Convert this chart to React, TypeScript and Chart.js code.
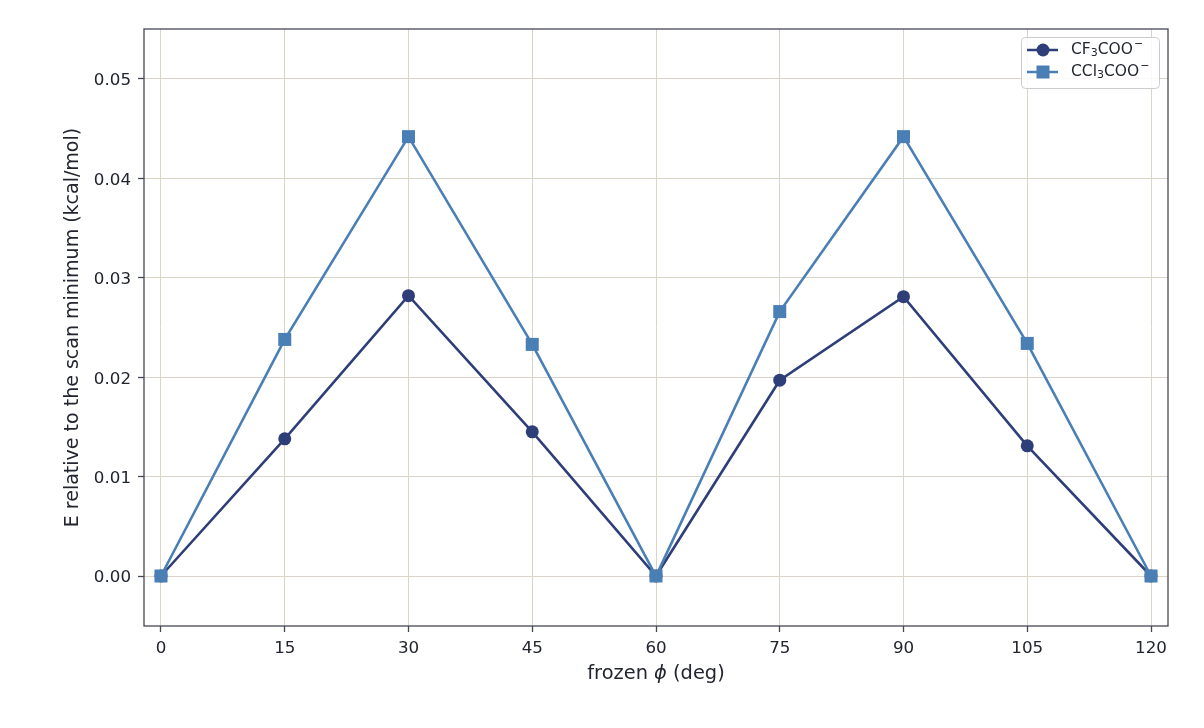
import { useRef, useEffect } from "react";
import { Chart, registerables } from "chart.js";

Chart.register(...registerables);

const angles = [0, 15, 30, 45, 60, 75, 90, 105, 120];
const cf3Values = [0, 0.0138, 0.0282, 0.0145, 0, 0.0197, 0.0281, 0.0131, 0];
const ccl3Values = [0, 0.0238, 0.0442, 0.0233, 0, 0.0266, 0.0442, 0.0234, 0];
const xTicks = [0, 15, 30, 45, 60, 75, 90, 105, 120];
const yTicks = [0, 0.01, 0.02, 0.03, 0.04, 0.05];

const NAVY = "#2e3e78";
const STEEL = "#4a7fb5";
const GRID = "#dad4c8";
const SPINE = "#454856";
const TEXT = "#22252f";
const FONT = "'DejaVu Sans'";

// matplotlib-like full frame around the plot area
const framePlugin = {
  id: "frame",
  afterDatasetsDraw(chart: Chart) {
    const { ctx, chartArea: a } = chart;
    ctx.save();
    ctx.strokeStyle = SPINE;
    ctx.lineWidth = 1.3;
    ctx.strokeRect(a.left, a.top, a.right - a.left, a.bottom - a.top);
    ctx.restore();
  },
};

// x title with an italic phi
const xTitlePlugin = {
  id: "xTitle",
  afterDraw(chart: Chart) {
    const { ctx, chartArea: a } = chart;
    const parts = [
      { t: "frozen ", f: `19.4px ${FONT}` },
      { t: "\u03d5", f: `oblique 19.4px ${FONT}` },
      { t: " (deg)", f: `19.4px ${FONT}` },
    ];
    ctx.save();
    ctx.fillStyle = TEXT;
    ctx.textBaseline = "middle";
    let total = 0;
    parts.forEach((p) => {
      ctx.font = p.f;
      total += ctx.measureText(p.t).width;
    });
    let x = (a.left + a.right) / 2 - total / 2;
    parts.forEach((p) => {
      ctx.font = p.f;
      ctx.fillText(p.t, x, 674);
      x += ctx.measureText(p.t).width;
    });
    ctx.restore();
  },
};

const drawLabel = (ctx: CanvasRenderingContext2D, x: number, y: number, head: string, sub: string) => {
  ctx.font = `15.5px ${FONT}`;
  ctx.fillText(head, x, y);
  x += ctx.measureText(head).width;
  ctx.font = `11px ${FONT}`;
  ctx.fillText(sub, x, y + 3.5);
  x += ctx.measureText(sub).width;
  ctx.font = `15.5px ${FONT}`;
  ctx.fillText("COO", x, y);
  x += ctx.measureText("COO").width + 1;
  ctx.font = `11px ${FONT}`;
  ctx.fillText("\u2212", x, y - 5.5);
};

const legendPlugin = {
  id: "boxLegend",
  afterDraw(chart: Chart) {
    const { ctx } = chart;
    const x = 1021, y = 37, w = 138, h = 51;
    ctx.save();
    ctx.fillStyle = "rgba(255,255,255,0.85)";
    ctx.strokeStyle = "#cccccc";
    ctx.lineWidth = 1;
    ctx.beginPath();
    ctx.roundRect(x + 0.5, y + 0.5, w, h, 4);
    ctx.fill();
    ctx.stroke();

    const rows = [
      { y: 50, color: NAVY, marker: "circle", sub: "3", head: "CF" },
      { y: 72, color: STEEL, marker: "rect", sub: "3", head: "CCl" },
    ];
    rows.forEach((r) => {
      ctx.strokeStyle = r.color;
      ctx.fillStyle = r.color;
      ctx.lineWidth = 2.5;
      ctx.beginPath();
      ctx.moveTo(1027, r.y);
      ctx.lineTo(1058, r.y);
      ctx.stroke();
      ctx.beginPath();
      if (r.marker === "circle") {
        ctx.arc(1043, r.y, 6.5, 0, Math.PI * 2);
      } else {
        ctx.rect(1036.5, r.y - 6.5, 13, 13);
      }
      ctx.fill();
      ctx.fillStyle = TEXT;
      ctx.textBaseline = "middle";
      drawLabel(ctx, 1071, r.y, r.head, r.sub);
    });
    ctx.restore();
  },
};

const ScanChart = () => {
  const chartRef = useRef<HTMLCanvasElement>(null);
  const chartInstance = useRef<Chart | null>(null);

  useEffect(() => {
    if (!chartRef.current) return;
    if (chartInstance.current) chartInstance.current.destroy();
    const ctx = chartRef.current.getContext("2d");
    if (!ctx) return;

    chartInstance.current = new Chart(ctx, {
      type: "line",
      data: {
        datasets: [
          {
            label: "CF3COO-",
            data: angles.map((a, i) => ({ x: a, y: cf3Values[i] })),
            borderColor: NAVY,
            backgroundColor: NAVY,
            borderWidth: 2.6,
            pointRadius: 6.5,
            pointStyle: "circle",
            pointBorderWidth: 0,
            order: 1,
          },
          {
            label: "CCl3COO-",
            data: angles.map((a, i) => ({ x: a, y: ccl3Values[i] })),
            borderColor: STEEL,
            backgroundColor: STEEL,
            borderWidth: 2.6,
            pointRadius: 9.2,
            pointStyle: "rect",
            pointBorderWidth: 0,
            order: 0,
          },
        ],
      },
      options: {
        animation: false,
        responsive: true,
        maintainAspectRatio: false,
        layout: { padding: { top: 29, right: 36, left: 0, bottom: 0 } },
        plugins: {
          legend: { display: false },
          tooltip: { enabled: false },
        },
        scales: {
          x: {
            type: "linear",
            min: -2.06,
            max: 122.06,
            afterFit: (scale: any) => {
              scale.height = 102;
            },
            afterBuildTicks: (scale: any) => {
              scale.ticks = xTicks.map((v) => ({ value: v }));
            },
            grid: { color: GRID, lineWidth: 1, tickColor: SPINE, tickLength: 6, tickWidth: 1.3 },
            border: { display: false },
            ticks: {
              color: TEXT,
              font: { family: FONT, size: 16.7 },
              padding: 7,
              maxRotation: 0,
              callback: (v: any) => String(v),
            },
          },
          y: {
            type: "linear",
            min: -0.00503,
            max: 0.05503,
            afterFit: (scale: any) => {
              scale.width = 144;
            },
            afterBuildTicks: (scale: any) => {
              scale.ticks = yTicks.map((v) => ({ value: v }));
            },
            grid: { color: GRID, lineWidth: 1, tickColor: SPINE, tickLength: 6, tickWidth: 1.3 },
            border: { display: false },
            ticks: {
              color: TEXT,
              font: { family: FONT, size: 16.7 },
              padding: 7,
              labelOffset: 2,
              callback: (v: any) => Number(v).toFixed(2),
            },
            title: {
              display: true,
              text: "E relative to the scan minimum (kcal/mol)",
              color: TEXT,
              font: { family: FONT, size: 19 },
              padding: { top: 62, bottom: 0 },
            },
          },
        },
      },
      plugins: [framePlugin, legendPlugin, xTitlePlugin],
    });

    return () => {
      if (chartInstance.current) {
        chartInstance.current.destroy();
        chartInstance.current = null;
      }
    };
  }, []);

  return (
    <div style={{ position: "absolute", left: 0, top: 0, width: 1204, height: 728, background: "#fff" }}>
      <canvas ref={chartRef} role="img" aria-label="Energy scan versus frozen phi angle"></canvas>
    </div>
  );
};

export default function App() {
  return <ScanChart />;
}
